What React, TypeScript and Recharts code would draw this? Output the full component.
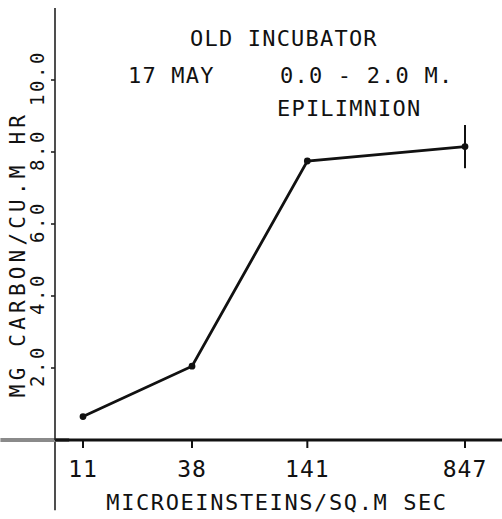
import { LineChart, Line, XAxis, YAxis, ErrorBar, ReferenceLine, Customized } from 'recharts';

// Light levels in the incubator (microeinsteins / sq.m sec)
const IRRADIANCE = [11, 38, 141, 847];
// Carbon uptake (mg carbon / cu.m hr)
const CARBON_RATE = [0.65, 2.05, 7.75, 8.15];
// Spread of the replicate bottles
const CARBON_SPREAD = [0, 0, 0, 0.6];

const X_TICKS = [11, 38, 141, 847];
const Y_TICKS = [2, 4, 6, 8, 10];

const PLOT_FONT = '"DejaVu Sans Mono", monospace';
const INK = '#111';

const data = IRRADIANCE.map((irr, i) => ({
  irr,
  rate: CARBON_RATE[i],
  spread: CARBON_SPREAD[i],
}));

const fmt = (v: number) => v.toFixed(1);

function XTick({ x, y, payload }: any) {
  return (
    <text x={x} y={y} dy={27} textAnchor="middle" fontFamily={PLOT_FONT} fontSize={23} letterSpacing={1} fill={INK}>
      {payload.value}
    </text>
  );
}

function YTick({ x, y, payload }: any) {
  return (
    <text
      transform={`translate(${x - 5}, ${y - 2}) rotate(-90)`}
      textAnchor="middle"
      fontFamily={PLOT_FONT}
      fontSize={19}
      letterSpacing={2.5}
      fill={INK}
    >
      {fmt(payload.value)}
    </text>
  );
}

function Headings() {
  const common = { fontFamily: PLOT_FONT, fontSize: 22, letterSpacing: 1.2, fill: INK };
  return (
    <g>
      <text x={190} y={46} {...common}>OLD INCUBATOR</text>
      <text x={128} y={83} {...common}>17 MAY</text>
      <text x={280} y={83} {...common}>0.0 - 2.0 M.</text>
      <text x={277} y={116} {...common}>EPILIMNION</text>
      <text
        transform="translate(25, 254) rotate(-90)"
        textAnchor="middle"
        fontFamily={PLOT_FONT}
        fontSize={21}
        letterSpacing={4.2}
        fill={INK}
      >
        MG CARBON/CU.M HR
      </text>
      <text x={277} y={510} textAnchor="middle" fontFamily={PLOT_FONT} fontSize={22} letterSpacing={1.6} fill={INK}>
        MICROEINSTEINS/SQ.M SEC
      </text>
    </g>
  );
}

export default function App() {
  return (
    <div style={{ position: 'absolute', left: 0, top: 0, width: 502, height: 519, background: '#fff' }}>
      <LineChart width={502} height={519} data={data} margin={{ top: 8, right: 0, bottom: 0, left: 0 }}>
        <XAxis
          dataKey="irr"
          type="number"
          scale="log"
          domain={[8, 1290]}
          allowDataOverflow
          ticks={X_TICKS}
          height={79}
          tickSize={8}
          axisLine={{ stroke: INK, strokeWidth: 3 }}
          tickLine={{ stroke: INK, strokeWidth: 2 }}
          tick={<XTick />}
        />
        <YAxis
          type="number"
          domain={[0, 12]}
          allowDataOverflow
          ticks={Y_TICKS}
          width={55}
          tickSize={4}
          axisLine={{ stroke: '#222', strokeWidth: 1.6 }}
          tickLine={{ stroke: '#222', strokeWidth: 1.6 }}
          tick={<YTick />}
        />
        {/* axis stubs running past the origin */}
        <ReferenceLine
          segment={[{ x: 8, y: 0 }, { x: 8, y: -1.95 }]}
          ifOverflow="visible"
          stroke="#222"
          strokeWidth={1.6}
        />
        <ReferenceLine
          segment={[{ x: 4.3, y: 0 }, { x: 9.4, y: 0 }]}
          ifOverflow="visible"
          stroke="#8a8a8a"
          strokeWidth={4}
        />
        <Line
          dataKey="rate"
          stroke={INK}
          strokeWidth={2.8}
          dot={{ r: 2, fill: INK, stroke: INK }}
          isAnimationActive={false}
        >
          <ErrorBar dataKey="spread" direction="y" width={0} stroke={INK} strokeWidth={2} isAnimationActive={false} />
        </Line>
        <Customized component={Headings} />
      </LineChart>
    </div>
  );
}
